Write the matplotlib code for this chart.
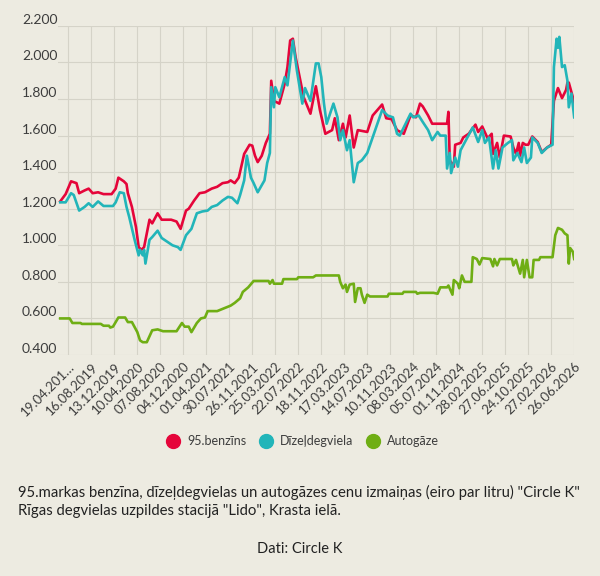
import matplotlib.pyplot as plt
from matplotlib.lines import Line2D

# weekly index, first label sits on week 6, then every 17 weeks
tick_weeks = list(range(6, 381, 17))
tick_labels = ["19.04.201…", "16.08.2019", "13.12.2019", "10.04.2020", "07.08.2020",
               "04.12.2020", "01.04.2021", "30.07.2021", "26.11.2021", "25.03.2022",
               "22.07.2022", "18.11.2022", "17.03.2023", "14.07.2023", "10.11.2023",
               "08.03.2024", "05.07.2024", "01.11.2024", "28.02.2025", "27.06.2025",
               "24.10.2025", "27.02.2026", "26.06.2026"]

# 95.benzins
benz_weeks = [0, 4, 8, 12, 14, 18, 21, 24, 28, 32, 38, 41, 43, 47, 49, 50, 53, 56, 58, 60,
              62, 66, 68, 72, 75, 82, 86, 89, 93, 95, 99, 103, 107, 112, 116, 120, 124, 126,
              129, 132, 136, 140, 142, 144, 146, 149, 152, 155, 156, 158, 162, 166, 168, 170,
              172, 174, 177, 180, 185, 189, 192, 196, 201, 203, 206, 209, 211, 214, 217, 220,
              227, 231, 238, 241, 245, 249, 254, 259, 263, 266, 268, 272, 275, 286, 287, 288,
              291, 292, 296, 298, 302, 307, 309, 312, 316, 319, 320, 323, 325, 328, 333, 335,
              337, 339, 340, 342, 344, 346, 349, 353, 356, 360, 363, 365, 368, 371, 374, 375,
              376, 379, 380]
benz = [1.24, 1.28, 1.35, 1.34, 1.285, 1.30, 1.31, 1.285, 1.29, 1.28, 1.28, 1.31, 1.37, 1.35,
        1.335, 1.285, 1.21, 1.10, 0.99, 0.975, 0.99, 1.14, 1.12, 1.175, 1.14, 1.14, 1.13, 1.09,
        1.19, 1.20, 1.245, 1.285, 1.29, 1.31, 1.32, 1.34, 1.345, 1.355, 1.34, 1.37, 1.50, 1.55,
        1.545, 1.49, 1.455, 1.49, 1.56, 1.61, 1.90, 1.79, 1.775, 1.885, 1.975, 2.12, 2.13, 2.03,
        1.92, 1.81, 1.72, 1.87, 1.74, 1.61, 1.63, 1.695, 1.575, 1.665, 1.59, 1.71, 1.535, 1.63,
        1.62, 1.71, 1.77, 1.695, 1.69, 1.63, 1.61, 1.71, 1.70, 1.775, 1.76, 1.71, 1.665, 1.665,
        1.73, 1.465, 1.43, 1.55, 1.56, 1.59, 1.61, 1.66, 1.62, 1.65, 1.585, 1.61, 1.50, 1.56,
        1.48, 1.60, 1.595, 1.535, 1.50, 1.56, 1.49, 1.56, 1.55, 1.55, 1.595, 1.565, 1.51, 1.535,
        1.55, 1.79, 1.86, 1.805, 1.85, 1.89, 1.89, 1.81, 1.755]

# Dizeldegviela
dd_weeks = [0, 4, 8, 10, 14, 18, 21, 24, 28, 32, 39, 41, 44, 47, 49, 51, 55, 58, 59, 61, 62,
            63, 66, 68, 72, 75, 79, 83, 87, 89, 93, 97, 101, 105, 109, 112, 116, 120, 124, 127,
            131, 133, 136, 138, 141, 143, 146, 151, 153, 155, 156, 158, 159, 162, 166, 168, 172,
            175, 179, 181, 185, 189, 191, 193, 195, 197, 200, 202, 205, 207, 209, 212, 214, 217,
            220, 223, 227, 231, 234, 238, 242, 246, 249, 251, 259, 261, 265, 268, 272, 275, 279,
            281, 285, 286, 288, 289, 292, 294, 296, 301, 305, 309, 312, 314, 317, 320, 322, 324,
            327, 331, 334, 335, 338, 341, 343, 345, 348, 349, 353, 356, 360, 364, 365, 367, 368,
            369, 371, 373, 375, 376, 378, 380]
dd = [1.235, 1.235, 1.285, 1.275, 1.19, 1.21, 1.23, 1.21, 1.24, 1.215, 1.215, 1.235, 1.29,
      1.285, 1.21, 1.155, 1.03, 0.945, 0.975, 0.945, 0.975, 0.90, 1.03, 1.045, 1.08, 1.04, 1.02,
      1.00, 0.99, 0.975, 1.055, 1.09, 1.175, 1.185, 1.19, 1.21, 1.22, 1.245, 1.265, 1.26, 1.23,
      1.275, 1.355, 1.49, 1.37, 1.34, 1.29, 1.355, 1.45, 1.505, 1.865, 1.755, 1.865, 1.81, 1.92,
      1.875, 2.12, 1.955, 1.775, 1.86, 1.79, 1.995, 1.995, 1.92, 1.775, 1.665, 1.73, 1.775, 1.70,
      1.575, 1.63, 1.52, 1.575, 1.345, 1.45, 1.465, 1.505, 1.59, 1.655, 1.74, 1.71, 1.70, 1.61,
      1.60, 1.72, 1.70, 1.71, 1.675, 1.63, 1.575, 1.62, 1.60, 1.60, 1.42, 1.505, 1.395, 1.48,
      1.43, 1.52, 1.59, 1.645, 1.565, 1.63, 1.56, 1.59, 1.42, 1.52, 1.42, 1.535, 1.56, 1.575,
      1.465, 1.505, 1.455, 1.535, 1.45, 1.48, 1.59, 1.56, 1.505, 1.535, 1.55, 1.975, 2.13, 2.08,
      2.14, 1.975, 1.985, 1.90, 1.755, 1.83, 1.70]

# Autogaze
lpg_weeks = [0, 7, 9, 15, 16, 30, 32, 36, 37, 39, 43, 48, 50, 53, 57, 59, 61, 64, 68, 72, 76,
             86, 90, 92, 95, 97, 101, 104, 107, 109, 116, 121, 126, 129, 133, 135, 139, 143,
             154, 155, 157, 158, 164, 165, 175, 176, 187, 189, 206, 207, 209, 211, 212, 214,
             217, 218, 220, 222, 223, 225, 227, 229, 242, 243, 253, 254, 263, 264, 266, 276,
             279, 281, 286, 287, 290, 291, 294, 295, 297, 299, 304, 305, 308, 310, 312, 318,
             320, 321, 323, 325, 334, 335, 337, 340, 342, 343, 345, 347, 349, 350, 354, 355,
             364, 366, 368, 371, 373, 375, 376, 377, 379, 380]
lpg = [0.60, 0.60, 0.575, 0.575, 0.57, 0.57, 0.56, 0.56, 0.55, 0.555, 0.605, 0.605, 0.58, 0.58,
       0.525, 0.48, 0.47, 0.47, 0.535, 0.54, 0.53, 0.53, 0.575, 0.555, 0.555, 0.525, 0.575, 0.60,
       0.605, 0.64, 0.64, 0.655, 0.67, 0.685, 0.71, 0.745, 0.77, 0.805, 0.805, 0.79, 0.81, 0.79,
       0.79, 0.815, 0.815, 0.825, 0.825, 0.835, 0.835, 0.80, 0.765, 0.785, 0.745, 0.785, 0.79,
       0.69, 0.765, 0.765, 0.73, 0.685, 0.73, 0.72, 0.72, 0.735, 0.735, 0.745, 0.745, 0.735,
       0.74, 0.74, 0.735, 0.77, 0.77, 0.78, 0.73, 0.81, 0.79, 0.765, 0.835, 0.80, 0.80, 0.935,
       0.925, 0.895, 0.93, 0.925, 0.885, 0.925, 0.89, 0.925, 0.925, 0.89, 0.92, 0.845, 0.92,
       0.825, 0.92, 0.825, 0.825, 0.92, 0.92, 0.935, 0.935, 1.055, 1.095, 1.085, 1.065, 1.055,
       0.90, 0.985, 0.965, 0.925]

y_ticks = [0.4, 0.6, 0.8, 1.0, 1.2, 1.4, 1.6, 1.8, 2.0, 2.2]

bg = "#EDEBE1"
red = "#E5053A"
cyan = "#22B5B9"
green = "#6FAE14"
txt = "#3D3D3D"
plt.rcParams['font.family'] = ['Lato', 'DejaVu Sans']

fig = plt.figure(figsize=(6, 5.76), dpi=100, facecolor=bg)
ax = fig.add_axes([0.097, 0.3837, 0.86, 0.5713], facecolor=bg)

ax.plot(lpg_weeks, lpg, color=green, lw=1.9, solid_joinstyle='round')
ax.plot(benz_weeks, benz, color=red, lw=1.9, solid_joinstyle='round')
ax.plot(dd_weeks, dd, color=cyan, lw=1.9, solid_joinstyle='round')

ax.set_xlim(-1.5, 380)
ax.set_ylim(0.4, 2.2)
ax.set_xticks(tick_weeks)
ax.set_xticklabels(tick_labels, rotation=45, ha='right', va='top', rotation_mode='anchor',
                   fontsize=9.5, color=txt)
ax.set_yticks(y_ticks)
ax.set_yticklabels([f"{v:.3f}" for v in y_ticks], ha='left', va='bottom', fontsize=10, color=txt)
ax.tick_params(axis='y', length=0, pad=26)
ax.tick_params(axis='x', length=0, pad=4)
ax.grid(True, color="#D5D3C8", lw=0.8)
ax.set_axisbelow(True)
for s in ax.spines.values():
    s.set_visible(False)

handles = [Line2D([], [], ls='', marker='o', ms=10, color=c) for c in (red, cyan, green)]
fig.legend(handles, ["95.benzīns", "Dīzeļdegviela", "Autogāze"], loc='center',
           bbox_to_anchor=(0.5, 1 - 441 / 576), ncol=3, frameon=False, fontsize=9,
           handletextpad=0.1, columnspacing=0.6, labelcolor=txt)

fig.text(0.03, 1 - 492 / 576,
         "95.markas benzīna, dīzeļdegvielas un autogāzes cenu izmaiņas (eiro par litru) \"Circle K\"",
         fontsize=10.7, color="#222222", va='center')
fig.text(0.03, 1 - 511 / 576, "Rīgas degvielas uzpildes stacijā \"Lido\", Krasta ielā.",
         fontsize=10.7, color="#222222", va='center')
fig.text(0.5, 1 - 549 / 576, "Dati: Circle K", fontsize=10.5, color="#222222",
         va='center', ha='center')

fig.savefig("out.png", dpi=100, facecolor=bg)
